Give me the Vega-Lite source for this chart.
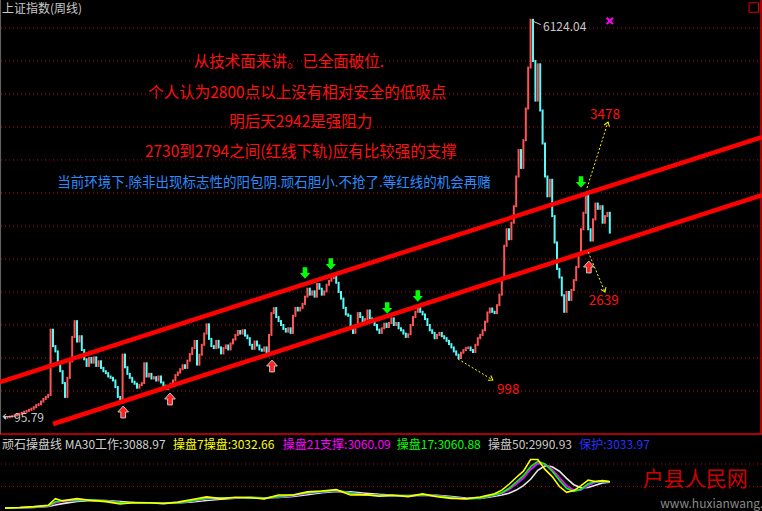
{
"$schema":"https://vega.github.io/schema/vega-lite/v6.json",
"width":762,"height":511,"padding":0,
"autosize":{"type":"none"},
"background":"#000000",
"config":{"view":{"stroke":null},"text":{"font":"Noto Sans CJK SC"}},
"datasets":{
"k":[{"w":0,"o":96,"c":96},{"w":4,"o":96,"c":104},{"w":8,"o":104,"c":112},{"w":12,"o":112,"c":120},{"w":16,"o":120,"c":130},{"w":20,"o":130,"c":142},{"w":24,"o":142,"c":155},{"w":28,"o":155,"c":170},{"w":32,"o":170,"c":185},{"w":36,"o":185,"c":200},{"w":40,"o":200,"c":215},{"w":44,"o":215,"c":232},{"w":48,"o":232,"c":255},{"w":52,"o":255,"c":285},{"w":56,"o":285,"c":300},{"w":60,"o":300,"c":340},{"w":64,"o":340,"c":380},{"w":68,"o":380,"c":410},{"w":72,"o":410,"c":440},{"w":76,"o":440,"c":1429},{"w":80,"o":1429,"c":1180},{"w":84,"o":1180,"c":1100},{"w":88,"o":1100,"c":920},{"w":92,"o":920,"c":800},{"w":96,"o":800,"c":620},{"w":100,"o":620,"c":410},{"w":104,"o":410,"c":700},{"w":108,"o":700,"c":950},{"w":112,"o":950,"c":1320},{"w":116,"o":1320,"c":1558},{"w":120,"o":1558,"c":1250},{"w":124,"o":1250,"c":1330},{"w":128,"o":1330,"c":1120},{"w":132,"o":1120,"c":980},{"w":136,"o":980,"c":880},{"w":140,"o":880,"c":1000},{"w":144,"o":1000,"c":930},{"w":148,"o":930,"c":1010},{"w":152,"o":1010,"c":880},{"w":156,"o":880,"c":950},{"w":160,"o":950,"c":850},{"w":164,"o":850,"c":800},{"w":168,"o":800,"c":770},{"w":172,"o":770,"c":720},{"w":176,"o":720,"c":700},{"w":180,"o":700,"c":660},{"w":184,"o":660,"c":560},{"w":188,"o":560,"c":410},{"w":192,"o":410,"c":330},{"w":196,"o":330,"c":1052},{"w":200,"o":1052,"c":860},{"w":204,"o":860,"c":760},{"w":208,"o":760,"c":700},{"w":212,"o":700,"c":640},{"w":216,"o":640,"c":610},{"w":220,"o":610,"c":550},{"w":224,"o":550,"c":590},{"w":228,"o":590,"c":620},{"w":232,"o":620,"c":920},{"w":236,"o":920,"c":720},{"w":240,"o":720,"c":760},{"w":244,"o":760,"c":690},{"w":248,"o":690,"c":710},{"w":252,"o":710,"c":660},{"w":256,"o":660,"c":720},{"w":260,"o":720,"c":630},{"w":264,"o":630,"c":580},{"w":268,"o":580,"c":530},{"w":272,"o":530,"c":560},{"w":276,"o":560,"c":610},{"w":280,"o":610,"c":660},{"w":284,"o":660,"c":740},{"w":288,"o":740,"c":780},{"w":292,"o":780,"c":830},{"w":296,"o":830,"c":890},{"w":300,"o":890,"c":850},{"w":304,"o":850,"c":960},{"w":308,"o":960,"c":1060},{"w":312,"o":1060,"c":1150},{"w":316,"o":1150,"c":1258},{"w":320,"o":1258,"c":900},{"w":324,"o":900,"c":1050},{"w":328,"o":1050,"c":1200},{"w":332,"o":1200,"c":1370},{"w":336,"o":1370,"c":1510},{"w":340,"o":1510,"c":1290},{"w":344,"o":1290,"c":1180},{"w":348,"o":1180,"c":1150},{"w":352,"o":1150,"c":1260},{"w":356,"o":1260,"c":1160},{"w":360,"o":1160,"c":1070},{"w":364,"o":1070,"c":1150},{"w":368,"o":1150,"c":1190},{"w":372,"o":1190,"c":1130},{"w":376,"o":1130,"c":1220},{"w":380,"o":1220,"c":1280},{"w":384,"o":1280,"c":1350},{"w":388,"o":1350,"c":1410},{"w":392,"o":1410,"c":1370},{"w":396,"o":1370,"c":1420},{"w":400,"o":1420,"c":1340},{"w":404,"o":1340,"c":1300},{"w":408,"o":1300,"c":1200},{"w":412,"o":1200,"c":1140},{"w":416,"o":1140,"c":1250},{"w":420,"o":1250,"c":1190},{"w":424,"o":1190,"c":1130},{"w":428,"o":1130,"c":1110},{"w":432,"o":1110,"c":1160},{"w":436,"o":1160,"c":1080},{"w":440,"o":1080,"c":1350},{"w":444,"o":1350,"c":1680},{"w":448,"o":1680,"c":1756},{"w":452,"o":1756,"c":1620},{"w":456,"o":1620,"c":1560},{"w":460,"o":1560,"c":1500},{"w":464,"o":1500,"c":1440},{"w":468,"o":1440,"c":1400},{"w":472,"o":1400,"c":1450},{"w":476,"o":1450,"c":1380},{"w":480,"o":1380,"c":1640},{"w":484,"o":1640,"c":1760},{"w":488,"o":1760,"c":1720},{"w":492,"o":1720,"c":1760},{"w":496,"o":1760,"c":1820},{"w":500,"o":1820,"c":1930},{"w":504,"o":1930,"c":2050},{"w":508,"o":2050,"c":1960},{"w":512,"o":1960,"c":2010},{"w":516,"o":2010,"c":1930},{"w":520,"o":1930,"c":2120},{"w":524,"o":2120,"c":2050},{"w":528,"o":2050,"c":1960},{"w":532,"o":1960,"c":2010},{"w":536,"o":2010,"c":2110},{"w":540,"o":2110,"c":2170},{"w":544,"o":2170,"c":2210},{"w":548,"o":2210,"c":2245},{"w":552,"o":2245,"c":2140},{"w":556,"o":2140,"c":2000},{"w":560,"o":2000,"c":1900},{"w":564,"o":1900,"c":1760},{"w":568,"o":1760,"c":1660},{"w":572,"o":1660,"c":1640},{"w":576,"o":1640,"c":1480},{"w":580,"o":1480,"c":1380},{"w":584,"o":1380,"c":1500},{"w":588,"o":1500,"c":1680},{"w":592,"o":1680,"c":1620},{"w":596,"o":1620,"c":1540},{"w":600,"o":1540,"c":1590},{"w":604,"o":1590,"c":1720},{"w":608,"o":1720,"c":1600},{"w":612,"o":1600,"c":1560},{"w":616,"o":1560,"c":1500},{"w":620,"o":1500,"c":1430},{"w":624,"o":1430,"c":1380},{"w":628,"o":1380,"c":1450},{"w":632,"o":1450,"c":1520},{"w":636,"o":1520,"c":1470},{"w":640,"o":1470,"c":1530},{"w":644,"o":1530,"c":1600},{"w":648,"o":1600,"c":1500},{"w":652,"o":1500,"c":1530},{"w":656,"o":1530,"c":1450},{"w":660,"o":1450,"c":1420},{"w":664,"o":1420,"c":1370},{"w":668,"o":1370,"c":1320},{"w":672,"o":1320,"c":1360},{"w":676,"o":1360,"c":1500},{"w":680,"o":1500,"c":1620},{"w":684,"o":1620,"c":1700},{"w":688,"o":1700,"c":1760},{"w":692,"o":1760,"c":1700},{"w":696,"o":1700,"c":1660},{"w":700,"o":1660,"c":1590},{"w":704,"o":1590,"c":1500},{"w":708,"o":1500,"c":1420},{"w":712,"o":1420,"c":1380},{"w":716,"o":1380,"c":1300},{"w":720,"o":1300,"c":1350},{"w":724,"o":1350,"c":1380},{"w":728,"o":1380,"c":1330},{"w":732,"o":1330,"c":1300},{"w":736,"o":1300,"c":1260},{"w":740,"o":1260,"c":1210},{"w":744,"o":1210,"c":1160},{"w":748,"o":1160,"c":1100},{"w":752,"o":1100,"c":1050},{"w":756,"o":1050,"c":1000},{"w":760,"o":1000,"c":1080},{"w":764,"o":1080,"c":1120},{"w":768,"o":1120,"c":1150},{"w":772,"o":1150,"c":1160},{"w":776,"o":1160,"c":1120},{"w":780,"o":1120,"c":1090},{"w":784,"o":1090,"c":1200},{"w":788,"o":1200,"c":1300},{"w":792,"o":1300,"c":1350},{"w":796,"o":1350,"c":1420},{"w":800,"o":1420,"c":1550},{"w":804,"o":1550,"c":1690},{"w":808,"o":1690,"c":1750},{"w":812,"o":1750,"c":1700},{"w":816,"o":1700,"c":1680},{"w":820,"o":1680,"c":1800},{"w":824,"o":1800,"c":1960},{"w":828,"o":1960,"c":2200},{"w":832,"o":2200,"c":2700},{"w":836,"o":2700,"c":2950},{"w":840,"o":2950,"c":2800},{"w":844,"o":2800,"c":3050},{"w":848,"o":3050,"c":3300},{"w":852,"o":3300,"c":3750},{"w":856,"o":3750,"c":4150},{"w":860,"o":4150,"c":3880},{"w":864,"o":3880,"c":4300},{"w":868,"o":4300,"c":4780},{"w":872,"o":4780,"c":5400},{"w":876,"o":5400,"c":6124},{"w":880,"o":6124,"c":5500},{"w":884,"o":5500,"c":4900},{"w":888,"o":4900,"c":5450},{"w":892,"o":5450,"c":4750},{"w":896,"o":4750,"c":4250},{"w":900,"o":4250,"c":3750},{"w":904,"o":3750,"c":3450},{"w":908,"o":3450,"c":3700},{"w":912,"o":3700,"c":3150},{"w":916,"o":3150,"c":2750},{"w":920,"o":2750,"c":2350},{"w":924,"o":2350,"c":2220},{"w":928,"o":2220,"c":1950},{"w":932,"o":1950,"c":1700},{"w":936,"o":1700,"c":2000},{"w":940,"o":2000,"c":1880},{"w":944,"o":1880,"c":2030},{"w":948,"o":2030,"c":2180},{"w":952,"o":2180,"c":2380},{"w":956,"o":2380,"c":2580},{"w":960,"o":2580,"c":2950},{"w":964,"o":2950,"c":3200},{"w":968,"o":3200,"c":3478},{"w":972,"o":3478,"c":2950},{"w":976,"o":2950,"c":2780},{"w":980,"o":2780,"c":3100},{"w":984,"o":3100,"c":3340},{"w":988,"o":3340,"c":3260},{"w":992,"o":3260,"c":3300},{"w":996,"o":3300,"c":3050},{"w":1000,"o":3050,"c":3150},{"w":1004,"o":3150,"c":3200},{"w":1008,"o":3200,"c":2900}],
"ind":[{"w":0,"y7":96,"g17":96,"m21":96,"k50":96,"bp":96},{"w":24,"y7":160,"g17":140,"m21":135,"k50":120,"bp":130},{"w":48,"y7":260,"g17":230,"m21":220,"k50":180,"bp":210},{"w":72,"y7":420,"g17":360,"m21":340,"k50":270,"bp":330},{"w":84,"y7":1150,"g17":800,"m21":700,"k50":450,"bp":680},{"w":96,"y7":900,"g17":950,"m21":900,"k50":600,"bp":880},{"w":120,"y7":1150,"g17":1000,"m21":980,"k50":850,"bp":960},{"w":144,"y7":950,"g17":1020,"m21":1030,"k50":950,"bp":1000},{"w":168,"y7":820,"g17":880,"m21":900,"k50":930,"bp":880},{"w":192,"y7":550,"g17":680,"m21":720,"k50":820,"bp":700},{"w":216,"y7":720,"g17":680,"m21":680,"k50":720,"bp":660},{"w":240,"y7":700,"g17":690,"m21":690,"k50":700,"bp":670},{"w":264,"y7":600,"g17":640,"m21":650,"k50":680,"bp":630},{"w":288,"y7":760,"g17":700,"m21":690,"k50":670,"bp":680},{"w":312,"y7":1050,"g17":930,"m21":900,"k50":780,"bp":880},{"w":336,"y7":1350,"g17":1200,"m21":1150,"k50":950,"bp":1120},{"w":360,"y7":1150,"g17":1220,"m21":1230,"k50":1100,"bp":1200},{"w":384,"y7":1300,"g17":1250,"m21":1240,"k50":1200,"bp":1220},{"w":408,"y7":1250,"g17":1290,"m21":1300,"k50":1270,"bp":1270},{"w":432,"y7":1130,"g17":1180,"m21":1200,"k50":1250,"bp":1170},{"w":456,"y7":1550,"g17":1400,"m21":1350,"k50":1270,"bp":1320},{"w":480,"y7":1550,"g17":1550,"m21":1520,"k50":1400,"bp":1490},{"w":504,"y7":1900,"g17":1800,"m21":1760,"k50":1600,"bp":1730},{"w":528,"y7":2000,"g17":1960,"m21":1940,"k50":1800,"bp":1900},{"w":552,"y7":2150,"g17":2080,"m21":2050,"k50":1950,"bp":2020},{"w":576,"y7":1550,"g17":1750,"m21":1800,"k50":1900,"bp":1770},{"w":600,"y7":1600,"g17":1580,"m21":1600,"k50":1750,"bp":1570},{"w":624,"y7":1420,"g17":1500,"m21":1520,"k50":1620,"bp":1490},{"w":648,"y7":1520,"g17":1490,"m21":1480,"k50":1530,"bp":1460},{"w":672,"y7":1380,"g17":1450,"m21":1460,"k50":1500,"bp":1430},{"w":696,"y7":1680,"g17":1580,"m21":1560,"k50":1500,"bp":1530},{"w":720,"y7":1360,"g17":1450,"m21":1480,"k50":1520,"bp":1450},{"w":744,"y7":1180,"g17":1260,"m21":1290,"k50":1380,"bp":1260},{"w":768,"y7":1140,"g17":1120,"m21":1130,"k50":1220,"bp":1110},{"w":792,"y7":1330,"g17":1240,"m21":1220,"k50":1180,"bp":1200},{"w":816,"y7":1700,"g17":1600,"m21":1560,"k50":1420,"bp":1530},{"w":828,"y7":2100,"g17":1800,"m21":1740,"k50":1550,"bp":1710},{"w":840,"y7":2750,"g17":2300,"m21":2150,"k50":1750,"bp":2120},{"w":852,"y7":3500,"g17":3000,"m21":2800,"k50":2100,"bp":2750},{"w":864,"y7":4200,"g17":3700,"m21":3450,"k50":2600,"bp":3400},{"w":876,"y7":5500,"g17":4700,"m21":4400,"k50":3300,"bp":4350},{"w":888,"y7":5500,"g17":5300,"m21":5100,"k50":4300,"bp":5000},{"w":900,"y7":4400,"g17":5000,"m21":5000,"k50":4800,"bp":4950},{"w":912,"y7":3600,"g17":4200,"m21":4400,"k50":4700,"bp":4350},{"w":924,"y7":2500,"g17":3200,"m21":3500,"k50":4200,"bp":3450},{"w":936,"y7":1850,"g17":2300,"m21":2600,"k50":3400,"bp":2550},{"w":948,"y7":2050,"g17":1950,"m21":2100,"k50":2700,"bp":2050},{"w":960,"y7":2600,"g17":2200,"m21":2150,"k50":2350,"bp":2100},{"w":972,"y7":3200,"g17":2800,"m21":2650,"k50":2400,"bp":2600},{"w":984,"y7":3050,"g17":3050,"m21":3000,"k50":2650,"bp":2950},{"w":996,"y7":3150,"g17":3100,"m21":3080,"k50":2900,"bp":3050},{"w":1008,"y7":3032,"g17":3060,"m21":3060,"k50":2990,"bp":3033}],
"grid":[{"v":500},{"v":1000},{"v":1500},{"v":2000},{"v":2500},{"v":3000},{"v":3500},{"v":4000},{"v":4500},{"v":5000},{"v":5500},{"v":6000}],
"igrid":[{"g":2500},{"g":5000}],
"sep":[{"v":-151.5}],
"edge":[{"w":1260,"v1":6424,"v2":-151.5,"e":"r"},{"w":-7.8,"v1":6424,"v2":-151.5,"e":"l"}],
"chan":[{"w":-8.33,"v":636,"s":"up"},{"w":1261.67,"v":4348,"s":"up"},{"w":80,"v":0,"s":"lo"},{"w":1261.67,"v":3469,"s":"lo"}],
"ga":[{"w":500,"v":2288},{"w":543,"v":2424},{"w":637,"v":1757},{"w":688,"v":1939},{"w":960,"v":3666}],
"ra":[{"w":197,"v":182},{"w":275,"v":379},{"w":445,"v":879},{"w":973,"v":2379}],
"ya":[{"id":1,"w1":755,"v1":985,"w2":813,"v2":667},{"id":2,"w1":970,"v1":3575,"w2":1005,"v2":4575},{"id":3,"w1":972,"v1":2606,"w2":1000,"v2":2000}],
"notes":[{"w":473,"v":5484,"t":"从技术面来讲。已全面破位."},{"w":487,"v":5015,"t":"个人认为2800点以上没有相对安全的低吸点"},{"w":493,"v":4575,"t":"明后天2942是强阻力"},{"w":493,"v":4121,"t":"2730到2794之间(红线下轨)应有比较强的支撑"}],
"lab":[{"w":-5,"v":6288,"t":"上证指数(周线)","k":"grey"},{"w":896.7,"v":6015,"t":"6124.04","k":"grey"},{"w":-5,"v":91,"t":"←95.79","k":"grey"},{"w":-5,"v":-318,"t":"顽石操盘线 MA30工作:3088.97","k":"lg0"},{"w":280,"v":-318,"t":"操盘7操盘:3032.66","k":"lg1"},{"w":463,"v":-318,"t":"操盘21支撑:3060.09","k":"lg2"},{"w":653,"v":-318,"t":"操盘17:3060.88","k":"lg3"},{"w":805,"v":-318,"t":"操盘50:2990.93","k":"lg4"},{"w":957,"v":-318,"t":"保护:3033.97","k":"lg5"},{"w":1092,"v":-1205,"t":"www.huxianwang.com","k":"url"}],
"blue":[{"w":87,"v":3651,"t":"当前环境下.除非出现标志性的阳包阴.顽石胆小.不抢了.等红线的机会再赌"}],
"num":[{"w":820,"v":515,"t":"998"},{"w":975,"v":4681,"t":"3478"},{"w":973,"v":1863,"t":"2639"}],
"wm":[{"w":1063,"v":-845,"t":"户县人民网"}],
"mk":[{"w":1008,"v":6106}],
"box":[{"w":1248,"v":6310}],
"lead":[{"w1":878,"v1":6110,"w2":893,"v2":6050}]
},
"resolve":{"scale":{"y":"independent","color":"independent"}},
"layer":[
{"data":{"name":"grid"},"mark":{"type":"rule","color":"#c00000","strokeDash":[1,3],"strokeWidth":1},
 "encoding":{"y":{"field":"v","type":"quantitative","scale":{"domain":[-1318,6424],"nice":false,"zero":false},"axis":null}}},
{"data":{"name":"igrid"},"mark":{"type":"rule","color":"#c00000","strokeDash":[1,3],"strokeWidth":1},
 "encoding":{"y":{"field":"g","type":"quantitative","scale":{"domain":[-222,56556],"nice":false,"zero":false},"axis":null}}},
{"data":{"name":"sep"},"mark":{"type":"rule","color":"#e00000","strokeWidth":1.5},
 "encoding":{"y":{"field":"v","type":"quantitative","scale":{"domain":[-1318,6424],"nice":false,"zero":false},"axis":null}}},
{"data":{"name":"edge"},"mark":{"type":"rule","strokeWidth":1.5},
 "encoding":{"x":{"field":"w","type":"quantitative","scale":{"domain":[-8.33,1261.67],"nice":false,"zero":false},"axis":null},
  "y":{"field":"v1","type":"quantitative","scale":{"domain":[-1318,6424],"nice":false,"zero":false},"axis":null},"y2":{"field":"v2"},
  "color":{"field":"e","type":"nominal","scale":{"domain":["r","l"],"range":["#e00000","#606060"]},"legend":null}}},
{"data":{"name":"ind"},"transform":[{"fold":["k50","bp","m21","g17","y7"],"as":["s","val"]}],
 "mark":{"type":"line","strokeWidth":1.6},
 "encoding":{"x":{"field":"w","type":"quantitative","scale":{"domain":[-8.33,1261.67],"nice":false,"zero":false},"axis":null},
  "y":{"field":"val","type":"quantitative","scale":{"domain":[-222,56556],"nice":false,"zero":false},"axis":null},
  "color":{"field":"s","type":"nominal","scale":{"domain":["k50","bp","m21","g17","y7"],"range":["#e8e8e8","#2030ff","#ff00ff","#00ff00","#ffff00"]},"legend":null}}},
{"data":{"name":"k"},"mark":{"type":"rule","strokeWidth":2,"strokeCap":"square"},
 "encoding":{"x":{"field":"w","type":"quantitative","scale":{"domain":[-8.33,1261.67],"nice":false,"zero":false},"axis":null},
  "y":{"field":"o","type":"quantitative","scale":{"domain":[-1318,6424],"nice":false,"zero":false},"axis":null},"y2":{"field":"c"},
  "color":{"condition":{"test":"datum.c > datum.o","value":"#ff5454"},"value":"#54fcfc"}}},
{"data":{"name":"chan"},"mark":{"type":"line","color":"#ff0000","strokeWidth":4.5},
 "encoding":{"x":{"field":"w","type":"quantitative","scale":{"domain":[-8.33,1261.67],"nice":false,"zero":false},"axis":null},
  "y":{"field":"v","type":"quantitative","scale":{"domain":[-1318,6424],"nice":false,"zero":false},"axis":null},"detail":{"field":"s"}}},
{"data":{"name":"ga"},"mark":{"type":"point","shape":"M-0.4,-1L0.4,-1L0.4,0L0.9,0L0,1L-0.9,0L-0.4,0Z","filled":true,"color":"#00ff00","opacity":1,"size":130},
 "encoding":{"x":{"field":"w","type":"quantitative","scale":{"domain":[-8.33,1261.67],"nice":false,"zero":false},"axis":null},
  "y":{"field":"v","type":"quantitative","scale":{"domain":[-1318,6424],"nice":false,"zero":false},"axis":null}}},
{"data":{"name":"ra"},"mark":{"type":"point","shape":"M-0.4,1L0.4,1L0.4,0L0.9,0L0,-1L-0.9,0L-0.4,0Z","filled":true,"fill":"#ff2020","stroke":"#c8c8c8","strokeWidth":1,"opacity":1,"size":140},
 "encoding":{"x":{"field":"w","type":"quantitative","scale":{"domain":[-8.33,1261.67],"nice":false,"zero":false},"axis":null},
  "y":{"field":"v","type":"quantitative","scale":{"domain":[-1318,6424],"nice":false,"zero":false},"axis":null}}},
{"data":{"name":"ya"},"mark":{"type":"rule","color":"#ffff00","strokeWidth":1,"strokeDash":[2,2]},
 "encoding":{"x":{"field":"w1","type":"quantitative","scale":{"domain":[-8.33,1261.67],"nice":false,"zero":false},"axis":null},"x2":{"field":"w2"},
  "y":{"field":"v1","type":"quantitative","scale":{"domain":[-1318,6424],"nice":false,"zero":false},"axis":null},"y2":{"field":"v2"}}},
{"data":{"name":"ya"},"transform":[{"filter":"datum.id == 1"}],"mark":{"type":"point","shape":"M-1,-0.7L0,0L-1,0.7","filled":false,"color":"#ffff00","strokeWidth":1,"opacity":1,"size":64,"angle":31},
 "encoding":{"x":{"field":"w2","type":"quantitative","scale":{"domain":[-8.33,1261.67],"nice":false,"zero":false},"axis":null},
  "y":{"field":"v2","type":"quantitative","scale":{"domain":[-1318,6424],"nice":false,"zero":false},"axis":null}}},
{"data":{"name":"ya"},"transform":[{"filter":"datum.id == 2"}],"mark":{"type":"point","shape":"M-1,-0.7L0,0L-1,0.7","filled":false,"color":"#ffff00","strokeWidth":1,"opacity":1,"size":64,"angle":288},
 "encoding":{"x":{"field":"w2","type":"quantitative","scale":{"domain":[-8.33,1261.67],"nice":false,"zero":false},"axis":null},
  "y":{"field":"v2","type":"quantitative","scale":{"domain":[-1318,6424],"nice":false,"zero":false},"axis":null}}},
{"data":{"name":"ya"},"transform":[{"filter":"datum.id == 3"}],"mark":{"type":"point","shape":"M-1,-0.7L0,0L-1,0.7","filled":false,"color":"#ffff00","strokeWidth":1,"opacity":1,"size":64,"angle":67},
 "encoding":{"x":{"field":"w2","type":"quantitative","scale":{"domain":[-8.33,1261.67],"nice":false,"zero":false},"axis":null},
  "y":{"field":"v2","type":"quantitative","scale":{"domain":[-1318,6424],"nice":false,"zero":false},"axis":null}}},
{"data":{"name":"lead"},"mark":{"type":"rule","color":"#c8c8c8","strokeWidth":1},
 "encoding":{"x":{"field":"w1","type":"quantitative","scale":{"domain":[-8.33,1261.67],"nice":false,"zero":false},"axis":null},"x2":{"field":"w2"},
  "y":{"field":"v1","type":"quantitative","scale":{"domain":[-1318,6424],"nice":false,"zero":false},"axis":null},"y2":{"field":"v2"}}},
{"data":{"name":"notes"},"mark":{"type":"text","align":"center","baseline":"middle","fontSize":15.5,"color":"#ff1010"},
 "encoding":{"x":{"field":"w","type":"quantitative","scale":{"domain":[-8.33,1261.67],"nice":false,"zero":false},"axis":null},
  "y":{"field":"v","type":"quantitative","scale":{"domain":[-1318,6424],"nice":false,"zero":false},"axis":null},"text":{"field":"t"}}},
{"data":{"name":"blue"},"mark":{"type":"text","align":"left","baseline":"middle","fontSize":13.5,"color":"#2a8cff"},
 "encoding":{"x":{"field":"w","type":"quantitative","scale":{"domain":[-8.33,1261.67],"nice":false,"zero":false},"axis":null},
  "y":{"field":"v","type":"quantitative","scale":{"domain":[-1318,6424],"nice":false,"zero":false},"axis":null},"text":{"field":"t"}}},
{"data":{"name":"num"},"mark":{"type":"text","align":"left","baseline":"middle","fontSize":13.5,"color":"#ff1010"},
 "encoding":{"x":{"field":"w","type":"quantitative","scale":{"domain":[-8.33,1261.67],"nice":false,"zero":false},"axis":null},
  "y":{"field":"v","type":"quantitative","scale":{"domain":[-1318,6424],"nice":false,"zero":false},"axis":null},"text":{"field":"t"}}},
{"data":{"name":"lab"},"mark":{"type":"text","align":"left","baseline":"middle","fontSize":12,"clip":true},
 "encoding":{"x":{"field":"w","type":"quantitative","scale":{"domain":[-8.33,1261.67],"nice":false,"zero":false},"axis":null},
  "y":{"field":"v","type":"quantitative","scale":{"domain":[-1318,6424],"nice":false,"zero":false},"axis":null},"text":{"field":"t"},
  "color":{"field":"k","type":"nominal","scale":{"domain":["grey","lg0","lg1","lg2","lg3","lg4","lg5","url"],"range":["#c8c8c8","#d0d0d0","#ffff00","#ff00ff","#00ff00","#c8c8c8","#2830ff","#8a8a8a"]},"legend":null}}},
{"data":{"name":"wm"},"mark":{"type":"text","align":"left","baseline":"middle","fontSize":21,"color":"#d00000","font":"Noto Sans CJK SC"},
 "encoding":{"x":{"field":"w","type":"quantitative","scale":{"domain":[-8.33,1261.67],"nice":false,"zero":false},"axis":null},
  "y":{"field":"v","type":"quantitative","scale":{"domain":[-1318,6424],"nice":false,"zero":false},"axis":null},"text":{"field":"t"}}},
{"data":{"name":"mk"},"mark":{"type":"point","shape":"M-1,-1L1,1M-1,1L1,-1","filled":false,"color":"#ff00ff","strokeWidth":2,"opacity":1,"size":40},
 "encoding":{"x":{"field":"w","type":"quantitative","scale":{"domain":[-8.33,1261.67],"nice":false,"zero":false},"axis":null},
  "y":{"field":"v","type":"quantitative","scale":{"domain":[-1318,6424],"nice":false,"zero":false},"axis":null}}},
{"data":{"name":"box"},"mark":{"type":"point","shape":"square","filled":false,"color":"#e00000","strokeWidth":1,"opacity":1,"size":90},
 "encoding":{"x":{"field":"w","type":"quantitative","scale":{"domain":[-8.33,1261.67],"nice":false,"zero":false},"axis":null},
  "y":{"field":"v","type":"quantitative","scale":{"domain":[-1318,6424],"nice":false,"zero":false},"axis":null}}}
]
}
